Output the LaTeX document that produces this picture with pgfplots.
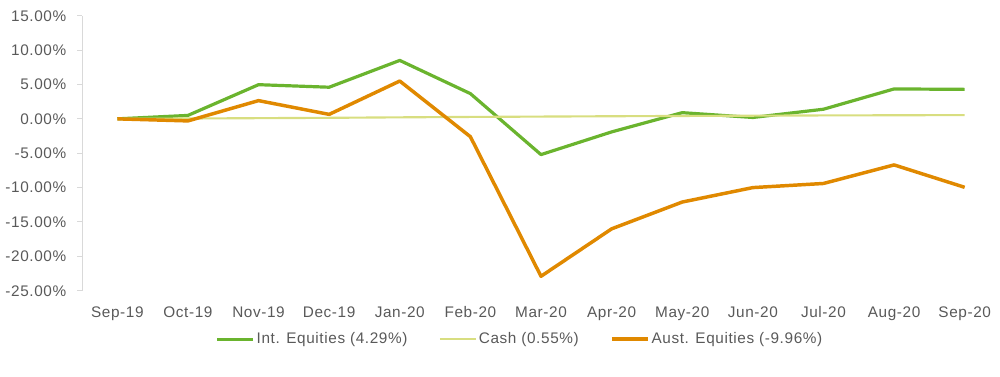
\documentclass[border=0pt]{standalone}
\usepackage{fontspec}
\setmainfont[LetterSpace=4]{Liberation Sans}
\usepackage{pgfplots}
\pgfplotsset{compat=1.18}
\definecolor{intg}{RGB}{106,180,46}
\definecolor{cashc}{RGB}{216,222,128}
\definecolor{ausc}{RGB}{224,137,0}
\definecolor{txtc}{RGB}{89,89,89}
\definecolor{axc}{RGB}{217,217,217}
\begin{document}
\fontsize{11.5}{13}\selectfont
\begin{tikzpicture}
\useasboundingbox (0,0) rectangle (750pt,282.75pt);
\begin{axis}[
  at={(61.5pt,64.7pt)}, anchor=south west,
  scale only axis, width=688.5pt, height=206.25pt,
  xmin=-0.5, xmax=12.5, ymin=-25, ymax=15,
  axis x line=bottom, axis y line=left,
  x axis line style={draw=none, -},
  y axis line style={draw=axc, line width=0.75pt, -},
  xtick={0,...,12},
  xticklabels={Sep-19,Oct-19,Nov-19,Dec-19,Jan-20,Feb-20,Mar-20,Apr-20,May-20,Jun-20,Jul-20,Aug-20,Sep-20},
  xtick style={draw=none},
  ytick={-25,-20,...,15},
  ytick style={draw=axc, line width=0.75pt},
  tick align=outside, major tick length=3.75pt,
  /pgf/number format/assume math mode=true,
  yticklabel={\pgfmathprintnumber[fixed,fixed zerofill,precision=2]{\tick}\%},
  tick label style={text=txtc, font=\fontsize{11.5}{13}\selectfont},
  xticklabel style={yshift=-4pt},
  yticklabel style={xshift=-4pt},
  legend columns=3,
  legend style={at={(0.477,-0.176)}, anchor=center, draw=none, fill=none,
    font=\fontsize{11.5}{13}\selectfont, text=txtc,
    /tikz/every even column/.append style={column sep=22pt},
    nodes={inner sep=1.5pt}},
  legend image code/.code={\draw[#1] (0pt,0pt) -- (27pt,0pt);},
]
\addplot[intg, line width=2.4pt, line join=round] coordinates {
(0,0) (1,0.5) (2,4.97) (3,4.6) (4,8.5) (5,3.67) (6,-5.2) (7,-1.9) (8,0.9) (9,0.2) (10,1.4) (11,4.35) (12,4.29)};
\addlegendentry{Int. Equities (4.29\%)}
\addplot[cashc, line width=1.6pt, line join=round] coordinates {
(0,0) (1,0.05) (2,0.1) (3,0.15) (4,0.22) (5,0.28) (6,0.33) (7,0.38) (8,0.42) (9,0.46) (10,0.5) (11,0.52) (12,0.55)};
\addlegendentry{Cash (0.55\%)}
\addplot[ausc, line width=2.6pt, line join=round] coordinates {
(0,0) (1,-0.3) (2,2.65) (3,0.65) (4,5.5) (5,-2.6) (6,-22.9) (7,-16.0) (8,-12.1) (9,-10.0) (10,-9.4) (11,-6.7) (12,-9.96)};
\addlegendentry{Aust. Equities (-9.96\%)}
\end{axis}
\end{tikzpicture}
\end{document}
